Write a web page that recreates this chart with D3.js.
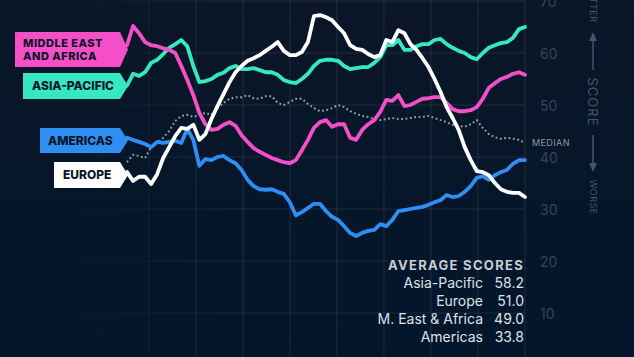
<!DOCTYPE html>
<html>
<head>
<meta charset="utf-8">
<script src="https://cdn.jsdelivr.net/npm/d3@7"></script>
<style>
html,body{margin:0;padding:0;background:#0a1729;}
svg{display:block;}
text{font-family:Inter,"Open Sans",sans-serif;}
</style>
</head>
<body>
<svg id="chart" width="634" height="357"></svg>
<script>
// ---- data (scores, weekly-ish samples) ----
const middleEastAfrica = [61.5,65.2,63.8,62.1,61.5,61.3,60.9,60.6,60.0,57.5,54.8,51.9,48.5,46.3,45.2,45.4,46.2,46.7,46.0,44.2,42.9,41.7,41.0,40.4,39.8,39.4,39.0,38.8,39.4,41.3,43.3,45.6,46.7,47.1,45.8,46.3,46.3,43.7,43.3,45.2,46.3,47.1,48.7,51.0,50.8,51.9,49.8,50.0,50.6,51.2,51.3,51.5,51.5,50.4,49.2,48.8,48.8,49.0,49.6,51.2,53.3,54.2,55.0,55.4,56.0,56.3,55.8];
const asiaPacific = [53.7,56.0,55.6,56.3,58.1,58.7,59.8,61.0,61.7,62.5,61.3,57.5,54.4,54.6,55.0,55.8,56.2,57.1,57.5,56.9,56.9,57.1,56.7,56.3,56.3,55.8,54.8,54.4,54.2,55.0,56.0,57.5,58.5,58.7,58.7,58.5,57.5,56.9,57.1,57.3,57.3,58.1,59.2,61.5,61.5,62.5,60.6,60.6,61.3,61.7,61.7,62.5,62.7,61.7,61.0,60.4,60.0,59.2,58.8,60.0,61.0,61.5,61.9,62.1,62.9,64.6,65.0];
const europe = [37.1,35.4,36.2,36.2,34.8,36.7,39.8,41.9,44.0,45.6,45.4,46.2,43.3,44.4,47.3,49.8,52.1,54.4,56.3,57.5,58.5,59.0,59.6,60.4,61.2,62.1,60.4,59.6,59.6,60.2,62.1,67.1,67.3,66.9,66.3,65.0,63.8,61.5,60.8,60.6,59.8,59.2,59.6,62.5,62.1,64.4,63.8,61.7,60.6,59.0,57.3,55.0,52.5,49.6,47.5,45.2,41.9,39.4,37.3,37.1,36.5,35.0,33.8,33.3,33.1,33.1,32.3];
const americas = [43.7,43.3,42.9,42.5,41.9,42.9,42.7,42.9,43.1,42.7,45.4,43.3,38.3,39.6,39.4,40.0,40.2,39.4,38.8,37.5,35.6,34.4,33.8,33.7,33.8,33.3,32.9,31.3,28.8,29.4,30.2,31.0,31.0,29.6,28.5,27.9,26.7,25.4,24.8,25.4,25.8,26.0,27.1,26.7,27.9,29.6,29.8,30.0,30.2,30.4,30.8,31.3,31.7,32.7,32.3,32.5,33.3,34.4,36.0,36.3,35.6,36.5,37.1,37.5,38.7,39.4,39.4];
const median = [39.0,40.4,40.2,39.8,41.9,42.7,43.7,45.0,46.9,47.9,48.1,47.7,48.1,48.5,48.1,49.4,50.4,51.2,51.5,51.5,51.9,51.3,51.2,51.7,51.7,50.4,50.0,50.6,51.2,51.2,50.2,49.4,48.8,49.0,49.4,50.0,49.6,48.8,48.3,47.9,47.7,47.3,47.1,47.3,47.5,47.3,47.3,47.5,47.7,47.7,47.9,47.5,47.1,46.7,46.2,46.0,45.8,46.3,47.1,45.6,44.4,43.8,43.5,43.7,43.5,43.3,42.7];

const seriesNames = ["Americas","Asia-Pacific","Middle East and Africa","Europe"];
const tagLabels = [["AMERICAS"],["ASIA-PACIFIC"],["MIDDLE EAST","AND AFRICA"],["EUROPE"]];
const avgNames = ["Asia-Pacific","Europe","M. East & Africa","Americas"];
const avgValues = [58.2,51.0,49.0,33.8];
const yTicks = [10,20,30,40,50,60,70];
const gridIdx = [-11.9,-4.1,3.65,11.44,19.23,27.02,34.81,42.6,50.39,58.18,66];

// ---- layout ----
const W = 634, H = 357;
const svg = d3.select("#chart");
const x = d3.scaleLinear().domain([0, median.length - 1]).range([127, 525]);
const y = d3.scaleLinear().domain([0, 70]).range([365, 1]);

// background
const defs = svg.append("defs");
const bg = defs.append("linearGradient").attr("id","bg").attr("x1",0).attr("y1",0).attr("x2",0).attr("y2",1);
bg.append("stop").attr("offset","0%").attr("stop-color","#0b1628");
bg.append("stop").attr("offset","100%").attr("stop-color","#02162b");
svg.append("rect").attr("width",W).attr("height",H).attr("fill","url(#bg)");

// grid fade mask
const mg = defs.append("linearGradient").attr("id","fadeX")
  .attr("gradientUnits","userSpaceOnUse").attr("x1",60).attr("y1",0).attr("x2",230).attr("y2",0);
mg.append("stop").attr("offset","0%").attr("stop-color","#000");
mg.append("stop").attr("offset","100%").attr("stop-color","#fff");
defs.append("mask").attr("id","gridMask").append("rect")
  .attr("x",0).attr("y",0).attr("width",W).attr("height",H).attr("fill","url(#fadeX)");

const grid = svg.append("g").attr("mask","url(#gridMask)");
grid.selectAll("line.v").data(gridIdx).join("line")
  .attr("x1",d=>x(d)).attr("x2",d=>x(d)).attr("y1",0).attr("y2",H)
  .attr("stroke","#ffffff").attr("stroke-opacity",0.085).attr("stroke-width",1.2);
grid.selectAll("line.h").data(yTicks).join("line")
  .attr("x1",40).attr("x2",x(median.length-1)).attr("y1",d=>y(d)).attr("y2",d=>y(d))
  .attr("stroke","#ffffff").attr("stroke-opacity",0.085).attr("stroke-width",1.2);

// right axis
const axis = d3.axisRight(y).tickValues(yTicks).tickSize(0).tickPadding(0);
const ax = svg.append("g").attr("transform","translate(540,0)").call(axis);
ax.select(".domain").remove();
ax.selectAll("text").attr("fill","#34445a").style("font-size","14px").attr("dy","0.36em").attr("x",0);

// lines
const line = d3.line().x((d,i)=>x(i)).y(d=>y(d));
svg.append("path").datum(median).attr("d",line).attr("fill","none")
  .attr("stroke","#98a1ae").attr("stroke-width",2).attr("stroke-dasharray","1.8 2.6").attr("stroke-linecap","butt");

const colors = {am:"#2f8ef2", ap:"#36e8c2", me:"#f54fc8", eu:"#ffffff"};
const order = [[americas,colors.am],[asiaPacific,colors.ap],[middleEastAfrica,colors.me],[europe,colors.eu]];
order.forEach(([d,c])=>{
  svg.append("path").datum(d).attr("d",line).attr("fill","none")
    .attr("stroke",c).attr("stroke-width",3.8).attr("stroke-linejoin","round").attr("stroke-linecap","round");
});

// MEDIAN label
svg.append("text").attr("x",532).attr("y",146).text("MEDIAN")
  .attr("fill","#8c96a4").style("font-size","9px").style("letter-spacing","0.4px");

// tags
const tags = [
  {x0:40, y0:128, y1:153, c:colors.am, lines:tagLabels[0], tx:48},
  {x0:23, y0:73, y1:99, c:colors.ap, lines:tagLabels[1], tx:32},
  {x0:15, y0:32, y1:67, c:colors.me, lines:tagLabels[2], tx:23},
  {x0:54, y0:162, y1:188, c:colors.eu, lines:tagLabels[3], tx:63}
];
tags.forEach(t=>{
  const tip = 128, x1 = 120, yc = (t.y0+t.y1)/2;
  svg.append("path").attr("d",`M${t.x0},${t.y0}L${x1},${t.y0}L${tip},${yc}L${x1},${t.y1}L${t.x0},${t.y1}Z`).attr("fill",t.c);
  const n = t.lines.length;
  const fs = n > 1 ? 11 : 12;
  t.lines.forEach((s,k)=>{
    svg.append("text").attr("x",t.tx).attr("y",yc + (k-(n-1)/2)*13.6).attr("dy","0.36em")
      .text(s).attr("fill","#0b1628").style("font-size",fs+"px").style("font-weight","800")
      .style("letter-spacing", n > 1 ? "0.5px" : "0px");
  });
});

// average scores
svg.append("text").attr("x",524).attr("y",265).attr("dy","0.36em").attr("text-anchor","end")
  .text("AVERAGE SCORES").attr("fill","#c9cdd4").style("font-size","13px").style("font-weight","700").style("letter-spacing","1.3px");
avgNames.forEach((n,i)=>{
  const yy = 283 + i*18;
  svg.append("text").attr("x",483).attr("y",yy).attr("dy","0.36em").attr("text-anchor","end")
    .text(n).attr("fill","#dfe2e7").style("font-size","14px");
  svg.append("text").attr("x",524).attr("y",yy).attr("dy","0.36em").attr("text-anchor","end")
    .text(avgValues[i].toFixed(1)).attr("fill","#dfe2e7").style("font-size","14px");
});

// score direction
const sc = svg.append("g").attr("fill","#45556b");
const vt = (txt, yy, size, ls)=> sc.append("text").attr("transform",`translate(593,${yy}) rotate(90)`)
  .attr("text-anchor","middle").attr("dy","0.36em").text(txt).style("font-size",size).style("letter-spacing",ls);
vt("SCORE",102,"13px","1px");
vt("BETTER",4,"9px","0.5px");
vt("WORSE",197,"9px","0.5px");
sc.append("line").attr("x1",593).attr("x2",593).attr("y1",38).attr("y2",70).attr("stroke","#45556b").attr("stroke-width",1.5);
sc.append("path").attr("d","M593,32L597,41L589,41Z");
sc.append("line").attr("x1",593).attr("x2",593).attr("y1",135).attr("y2",166).attr("stroke","#45556b").attr("stroke-width",1.5);
sc.append("path").attr("d","M593,172L597,163L589,163Z");
</script>
</body>
</html>
